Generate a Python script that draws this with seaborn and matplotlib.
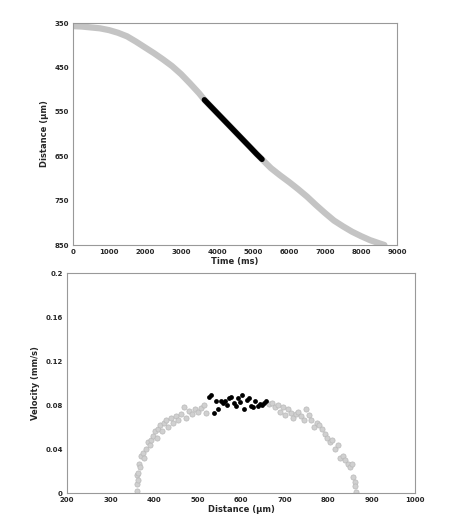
import matplotlib
matplotlib.use("Agg")
import matplotlib.pyplot as plt
import seaborn as sns
import pandas as pd

time_ms = [0,250,500,750,1000,1250,1500,1750,2000,2250,2500,2750,3000,3250,3500,3650,
           3900,4150,4400,4650,4900,5100,5250,5500,5750,6000,6250,6500,6750,7000,7250,7500,7750,8000,8250,8500,8650]
dist_um = [357,358,360,362,366,372,380,392,405,418,432,447,465,486,508,523,
           544,565,586,607,628,645,657,677,693,708,724,741,760,778,795,808,820,830,839,846,850]
seg_start, seg_end = 15, 22

gray_d = [360,361,362,363,364,366,368,371,375,378,382,386,390,394,398,402,406,410,414,418,423,428,433,438,444,450,456,462,468,474,480,487,494,501,508,515,520,
          665,672,678,684,690,696,702,708,714,720,726,732,738,744,750,756,762,768,774,780,786,792,798,804,810,816,822,828,834,840,845,850,855,858,861,863,865]
gray_v = [0.002,0.008,0.016,0.012,0.018,0.026,0.024,0.034,0.036,0.032,0.040,0.046,0.044,0.048,0.052,0.056,0.050,0.058,0.062,0.056,0.064,0.066,0.060,0.068,0.064,0.070,0.066,0.072,0.078,0.068,0.075,0.072,0.076,0.074,0.077,0.080,0.073,
          0.081,0.082,0.078,0.080,0.074,0.078,0.071,0.076,0.073,0.068,0.072,0.074,0.070,0.066,0.076,0.071,0.066,0.060,0.064,0.062,0.058,0.054,0.050,0.046,0.048,0.040,0.044,0.032,0.034,0.030,0.026,0.024,0.026,0.015,0.010,0.006,0.001]
black_d = [527,532,537,542,548,553,558,563,568,573,578,583,588,593,598,603,608,613,618,623,628,633,638,643,648,653,657]
black_v = [0.087,0.089,0.073,0.084,0.076,0.084,0.082,0.084,0.080,0.086,0.087,0.082,0.079,0.086,0.083,0.089,0.076,0.085,0.086,0.079,0.078,0.084,0.079,0.081,0.080,0.082,0.084]

sns.set_style("white")
plt.rcParams['font.family'] = ['DejaVu Sans']
fig = plt.figure(figsize=(4.74, 5.29), dpi=100)
ax1 = fig.add_axes([73/474, 1-245/529, 324/474, 222/529])
ax2 = fig.add_axes([67/474, 1-493/529, 348/474, 220/529])

top = pd.DataFrame({"t": time_ms, "d": dist_um})
sns.lineplot(data=top, x="t", y="d", ax=ax1, color="#c4c4c4", lw=4.5)
seg = top.iloc[seg_start:seg_end+1]
sns.lineplot(data=seg, x="t", y="d", ax=ax1, color="black", lw=4)
ax1.set_xlim(0, 9000); ax1.set_ylim(850, 350)
ax1.set_xticks(range(0, 9001, 1000)); ax1.set_yticks([350,450,550,650,750,850])
ax1.set_xlabel("Time (ms)", fontsize=6, fontweight="bold", labelpad=1)
ax1.set_ylabel("Distance (µm)", fontsize=6, fontweight="bold")

sns.scatterplot(x=gray_d, y=gray_v, ax=ax2, color="#d0d0d0", edgecolor="#b8b8b8", s=14, linewidth=0.5)
sns.scatterplot(x=black_d, y=black_v, ax=ax2, color="black", s=12, linewidth=0)
ax2.set_xlim(200, 1000); ax2.set_ylim(0, 0.2)
ax2.set_xticks(range(200, 1001, 100)); ax2.set_yticks([0,0.04,0.08,0.12,0.16,0.2])
ax2.set_yticklabels(["0","0.04","0.08","0.12","0.16","0.2"])
ax2.set_xlabel("Distance (µm)", fontsize=6, fontweight="bold", labelpad=1)
ax2.set_ylabel("Velocity (mm/s)", fontsize=6, fontweight="bold")

for ax in (ax1, ax2):
    ax.tick_params(labelsize=5, length=2, pad=1)
    for t in ax.get_xticklabels() + ax.get_yticklabels():
        t.set_fontweight("bold")
    for s in ax.spines.values():
        s.set_color("#999999"); s.set_linewidth(0.8)

fig.savefig("out.png", dpi=100)
